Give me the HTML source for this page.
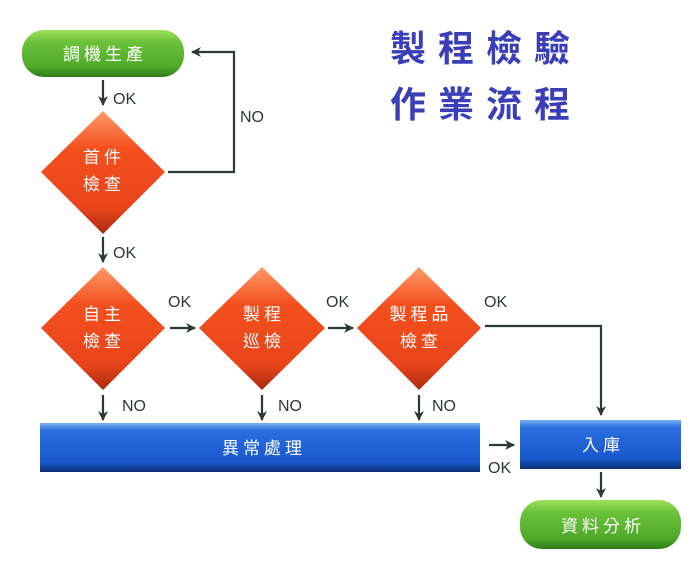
<!DOCTYPE html>
<html><head><meta charset="utf-8"><style>
html,body{margin:0;padding:0;background:#fff;}
svg{display:block;}
</style></head><body>
<svg width="700" height="574" viewBox="0 0 700 574" xmlns="http://www.w3.org/2000/svg">
<defs>
<linearGradient id="g" x1="0" y1="0" x2="0" y2="1">
<stop offset="0" stop-color="#9fe05a"/><stop offset="0.25" stop-color="#6cc23a"/><stop offset="0.8" stop-color="#4ea82a"/><stop offset="1" stop-color="#2f7a1a"/></linearGradient>
<linearGradient id="b" x1="0" y1="0" x2="0" y2="1">
<stop offset="0" stop-color="#7ab0f0"/><stop offset="0.15" stop-color="#2a6ee0"/><stop offset="0.8" stop-color="#1858cc"/><stop offset="1" stop-color="#0b2f70"/></linearGradient>
<linearGradient id="r" x1="0" y1="0" x2="0" y2="1">
<stop offset="0" stop-color="#ff9a6a"/><stop offset="0.3" stop-color="#f4501e"/><stop offset="0.8" stop-color="#e8441a"/><stop offset="1" stop-color="#a82a10"/></linearGradient>
<marker id="a" markerWidth="10" markerHeight="10" refX="9" refY="5" orient="auto" markerUnits="userSpaceOnUse">
<path d="M0,0 L10,5 L0,10 L3,5 Z" fill="#2b3a36"/></marker>
</defs>
<g font-family="'Liberation Sans','Noto Sans CJK TC',sans-serif">
<!-- title -->
<g fill="#3a3fb8" font-size="36" font-weight="bold" font-family="'Noto Sans CJK TC',sans-serif" letter-spacing="12">
<text x="390" y="61">製程檢驗</text>
<text x="390" y="117">作業流程</text>
</g>
<!-- shapes -->
<rect x="22" y="30" width="162" height="47" rx="22" fill="url(#g)"/>
<rect x="520" y="500" width="161" height="49" rx="22" fill="url(#g)"/>
<rect x="40" y="423" width="440" height="49" fill="url(#b)"/>
<rect x="520" y="420" width="161" height="49" fill="url(#b)"/>
<polygon points="103,111 165,172 103,234 41,172" fill="url(#r)"/>
<polygon points="103,267 165,328 103,390 41,328" fill="url(#r)"/>
<polygon points="262,267 325,328 262,390 199,328" fill="url(#r)"/>
<polygon points="419,267 481,328 419,390 357,328" fill="url(#r)"/>
<!-- labels in shapes -->
<g fill="#fff" font-size="17" font-family="'Noto Sans CJK TC',sans-serif" text-anchor="middle" letter-spacing="4">
<text x="105" y="60">調機生產</text>
<text x="104" y="163">首件</text><text x="104" y="190">檢查</text>
<text x="104" y="320">自主</text><text x="104" y="347">檢查</text>
<text x="264" y="320">製程</text><text x="264" y="347">巡檢</text>
<text x="421" y="320">製程品</text><text x="421" y="347">檢查</text>
<text x="264" y="454">異常處理</text>
<text x="603" y="451">入庫</text>
<text x="603" y="532">資料分析</text>
</g>
<!-- connectors -->
<g stroke="#2b3a36" stroke-width="2.2" fill="none">
<line x1="103" y1="80" x2="103" y2="105" marker-end="url(#a)"/>
<line x1="103" y1="237" x2="103" y2="262" marker-end="url(#a)"/>
<polyline points="168,172 234,172 234,52 192,52" marker-end="url(#a)"/>
<line x1="170" y1="328" x2="195" y2="328" marker-end="url(#a)"/>
<line x1="328" y1="328" x2="353" y2="328" marker-end="url(#a)"/>
<polyline points="485,326 601,326 601,415" marker-end="url(#a)"/>
<line x1="103" y1="395" x2="103" y2="420" marker-end="url(#a)"/>
<line x1="262" y1="395" x2="262" y2="420" marker-end="url(#a)"/>
<line x1="419" y1="395" x2="419" y2="420" marker-end="url(#a)"/>
<line x1="489" y1="445" x2="514" y2="445" marker-end="url(#a)"/>
<line x1="601" y1="472" x2="601" y2="497" marker-end="url(#a)"/>
</g>
<g fill="#2b3a36" font-size="16">
<text x="113" y="104">OK</text>
<text x="113" y="258">OK</text>
<text x="240" y="122">NO</text>
<text x="168" y="307">OK</text>
<text x="326" y="307">OK</text>
<text x="484" y="307">OK</text>
<text x="122" y="411">NO</text>
<text x="278" y="411">NO</text>
<text x="432" y="411">NO</text>
<text x="488" y="473">OK</text>
</g>
</g>
</svg>
</body></html>
